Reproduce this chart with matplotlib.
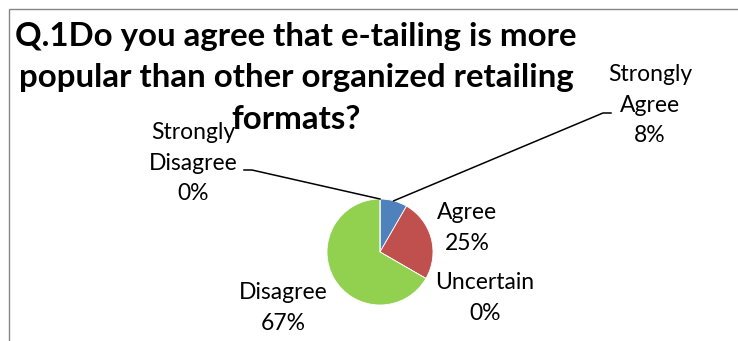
import matplotlib
matplotlib.use("Agg")
import matplotlib.pyplot as plt
from matplotlib.patches import Rectangle
import numpy as np

plt.rcParams['font.family'] = ['Lato', 'DejaVu Sans']

title = "Q.1Do you agree that e-tailing is more\npopular than other organized retailing\nformats?"
categories = ["Strongly Agree", "Agree", "Uncertain", "Disagree", "Strongly Disagree"]
label_text = ["Strongly\nAgree", "Agree", "Uncertain", "Disagree", "Strongly\nDisagree"]
counts = [1, 3, 0, 8, 0]
colors = ["#4F81BD", "#C0504D", "#9BBB59", "#92D050", "#8064A2"]

W, H = 738, 341
CX, CY, R = 380, 252, 53


def px2d(px, py):
  return (px - CX) / R, (CY - py) / R


fig = plt.figure(figsize=(W / 100, H / 100), dpi=100)
ax = fig.add_axes([0, 0, 1, 1])

# chart frame
fig.patches.append(Rectangle((9 / W, -0.1), 1.2, (H - 9) / H + 0.1, transform=fig.transFigure,
                             fill=False, edgecolor="#868686", linewidth=1.0))

wedges, _ = ax.pie(counts, colors=colors, startangle=90, counterclock=False,
                   radius=1, center=(0, 0), frame=True,
                   wedgeprops=dict(linewidth=0.6, edgecolor="white"))
ax.set_xlim(-CX / R, (W - CX) / R)
ax.set_ylim((CY - H) / R, CY / R)
ax.set_aspect('auto')
ax.axis('off')

total = sum(counts)
pcts = [round(100 * c / total) for c in counts]

# label centres in pixels (text), leader-line elbows for the tiny labels
label_pos = [(650, 105), (467, 228), (485, 298), (283, 308), (193, 163)]
elbow = {0: (611, 113), 4: (244, 170)}

for i, (name, p) in enumerate(zip(label_text, pcts)):
  lx, ly = px2d(*label_pos[i])
  ax.text(lx, ly, f"{name}\n{p}%", ha="center", va="center",
          fontsize=16.5, linespacing=1.55, color="#000000")
  if i in elbow:
    w = wedges[i]
    mid = np.deg2rad((w.theta1 + w.theta2) / 2)
    sx, sy = np.cos(mid) * w.r, np.sin(mid) * w.r
    ex, ey = px2d(*elbow[i])
    hx = ex - 8 / R if i == 0 else ex + 8 / R
    ax.plot([sx, hx, ex], [sy, ey, ey], color="black", linewidth=1.1)

tx, ty = px2d(296, 78)
ax.text(tx, ty, title, ha="center", va="center", multialignment="center",
        fontsize=23.8, fontweight="bold", linespacing=1.52, color="#000000")

fig.savefig("out.png", dpi=100)
